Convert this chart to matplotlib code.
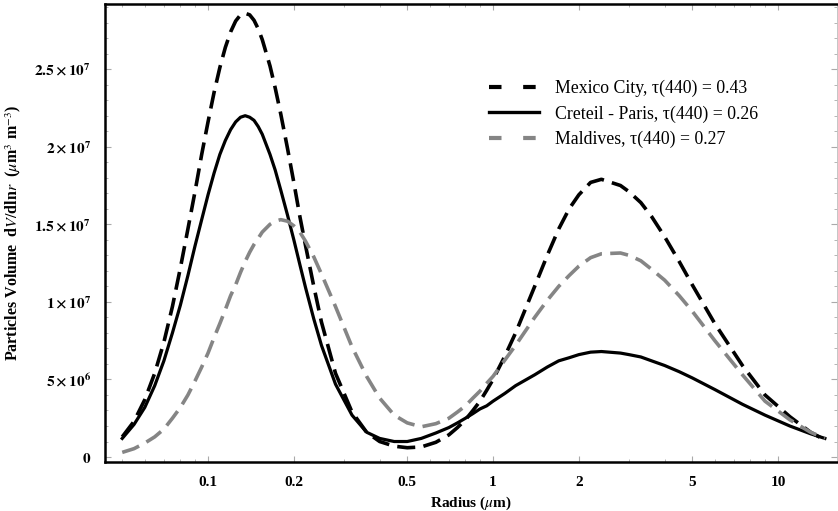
import matplotlib
matplotlib.use("Agg")
from matplotlib import pyplot as plt
from matplotlib import ticker
from matplotlib.lines import Line2D
import numpy as np

plt.rcParams['font.family'] = ['Liberation Serif', 'DejaVu Serif']
plt.rcParams['mathtext.fontset'] = 'stix'

# radius (um) and volume distributions (x 1e7 um^3 m^-3)
radius = [0.05, 0.055, 0.06, 0.065, 0.07, 0.075, 0.08, 0.085, 0.09, 0.095,
          0.10, 0.105, 0.11, 0.115, 0.12, 0.125, 0.13, 0.135, 0.14, 0.145,
          0.15, 0.155, 0.165, 0.172, 0.18, 0.19, 0.20, 0.21, 0.22, 0.235,
          0.25, 0.28, 0.32, 0.36, 0.40, 0.45, 0.50, 0.56, 0.63, 0.70,
          0.75, 0.80, 0.85, 0.90, 0.95, 1.0, 1.1, 1.2, 1.4, 1.55,
          1.7, 1.85, 2.0, 2.2, 2.4, 2.8, 3.0, 3.3, 3.6, 4.0,
          4.5, 5.0, 6.0, 7.5, 9.0, 11.0, 13.0, 14.6]

mexico = [0.13, 0.23, 0.37, 0.54, 0.74, 0.97, 1.22, 1.47, 1.71, 1.95,
          2.16, 2.35, 2.51, 2.64, 2.74, 2.81, 2.85, 2.86, 2.85, 2.815,
          2.76, 2.69, 2.52, 2.38, 2.21, 1.99, 1.77, 1.55, 1.36, 1.10,
          0.87, 0.54, 0.29, 0.16, 0.10, 0.07, 0.06, 0.065, 0.095, 0.143,
          0.19, 0.24, 0.30, 0.36, 0.43, 0.50, 0.65, 0.80, 1.10, 1.30,
          1.47, 1.60, 1.69, 1.77, 1.79, 1.75, 1.71, 1.64, 1.55, 1.42,
          1.26, 1.11, 0.86, 0.59, 0.40, 0.26, 0.16, 0.11]

creteil = [0.12, 0.21, 0.32, 0.46, 0.62, 0.80, 0.98, 1.17, 1.36, 1.53,
           1.69, 1.83, 1.95, 2.04, 2.11, 2.16, 2.19, 2.20, 2.19, 2.17,
           2.13, 2.08, 1.95, 1.85, 1.72, 1.56, 1.40, 1.24, 1.09, 0.89,
           0.72, 0.47, 0.27, 0.16, 0.12, 0.10, 0.10, 0.12, 0.155, 0.19,
           0.22, 0.25, 0.28, 0.31, 0.33, 0.36, 0.41, 0.46, 0.53, 0.58,
           0.62, 0.64, 0.66, 0.676, 0.68, 0.67, 0.66, 0.645, 0.62, 0.59,
           0.55, 0.51, 0.435, 0.34, 0.27, 0.20, 0.15, 0.12]

maldives = [0.03, 0.054, 0.09, 0.13, 0.18, 0.25, 0.32, 0.40, 0.49, 0.58,
            0.67, 0.77, 0.86, 0.95, 1.04, 1.11, 1.19, 1.26, 1.32, 1.37,
            1.41, 1.45, 1.50, 1.52, 1.53, 1.52, 1.49, 1.45, 1.39, 1.29,
            1.18, 0.97, 0.71, 0.52, 0.38, 0.27, 0.22, 0.195, 0.215, 0.25,
            0.29, 0.33, 0.38, 0.425, 0.475, 0.52, 0.625, 0.72, 0.90, 1.01,
            1.10, 1.17, 1.23, 1.285, 1.31, 1.315, 1.30, 1.265, 1.21, 1.14,
            1.04, 0.94, 0.75, 0.53, 0.36, 0.24, 0.16, 0.12]

labels = ['Mexico City, \u03c4(440) = 0.43',
          'Creteil - Paris, \u03c4(440) = 0.26',
          'Maldives, \u03c4(440) = 0.27']

x_ticks = [0.1, 0.2, 0.5, 1, 2, 5, 10]
x_ticklabels = ['0.1', '0.2', '0.5', '1', '2', '5', '10']
y_ticks = [0, 5e6, 1e7, 1.5e7, 2e7, 2.5e7]
y_ticklabels = [r'$\mathbf{0}$', r'$\mathbf{5\times10^{6}}$', r'$\mathbf{1\times10^{7}}$',
                r'$\mathbf{1.5\times10^{7}}$', r'$\mathbf{2\times10^{7}}$',
                r'$\mathbf{2.5\times10^{7}}$']

gray = '#858585'
dash = (0, (5.0, 2.3))

fig = plt.figure(figsize=(8.38, 5.11), dpi=100)
ax = fig.add_axes([0.1253, 0.0959, 0.8735, 0.8963])

r = np.array(radius)
ax.plot(r, np.array(mexico) * 1e7, color='black', lw=2.6, linestyle=dash)
ax.plot(r, np.array(creteil) * 1e7, color='black', lw=2.3)
ax.plot(r, np.array(maldives) * 1e7, color=gray, lw=2.6, linestyle=dash)

ax.set_xscale('log')
ax.set_xlim(0.0435, 16.1)
ax.set_ylim(-3.2e5, 2.92e7)

ax.xaxis.set_major_locator(ticker.FixedLocator(x_ticks))
ax.xaxis.set_major_formatter(ticker.FixedFormatter(x_ticklabels))
ax.xaxis.set_minor_locator(ticker.LogLocator(base=10, subs=np.arange(2, 10)))
ax.xaxis.set_minor_formatter(ticker.NullFormatter())
ax.yaxis.set_major_locator(ticker.FixedLocator(y_ticks))
ax.yaxis.set_major_formatter(ticker.FixedFormatter(y_ticklabels))
ax.yaxis.set_minor_locator(ticker.AutoMinorLocator(5))

ax.tick_params(which='both', direction='in', top=True, right=True,
               color='#aaaaaa')
ax.tick_params(which='major', length=4, width=0.8, pad=10, labelsize=11)
ax.tick_params(which='minor', length=2, width=0.6)
for lab in ax.get_xticklabels():
    lab.set_fontweight('bold')

for side in ['left', 'bottom', 'top']:
    ax.spines[side].set_linewidth(1.8)
ax.spines['right'].set_linewidth(0.6)
ax.spines['right'].set_color('#bbbbbb')

ax.set_xlabel(r'Radius ($\mu$m)', fontsize=11, fontweight='bold', labelpad=4)
ax.set_ylabel(r'Particles Volume  d$V$/dln$r$  ($\mu$m$^{3}$ m$^{-3}$)',
              fontsize=11.5, fontweight='bold', labelpad=8)

# legend handles drawn with a sparser dash, as in the original key
leg_dash = (0, (3.0, 5.2))
handles = [Line2D([], [], color='black', lw=3.0, linestyle=leg_dash),
           Line2D([], [], color='black', lw=2.4),
           Line2D([], [], color=gray, lw=3.0, linestyle=leg_dash)]
ax.legend(handles, labels, loc='upper left', bbox_to_anchor=(0.503, 0.869),
          frameon=False, fontsize=12.8, handlelength=2.8, handletextpad=0.9,
          labelspacing=0.45)

fig.savefig('out.png', dpi=100)
